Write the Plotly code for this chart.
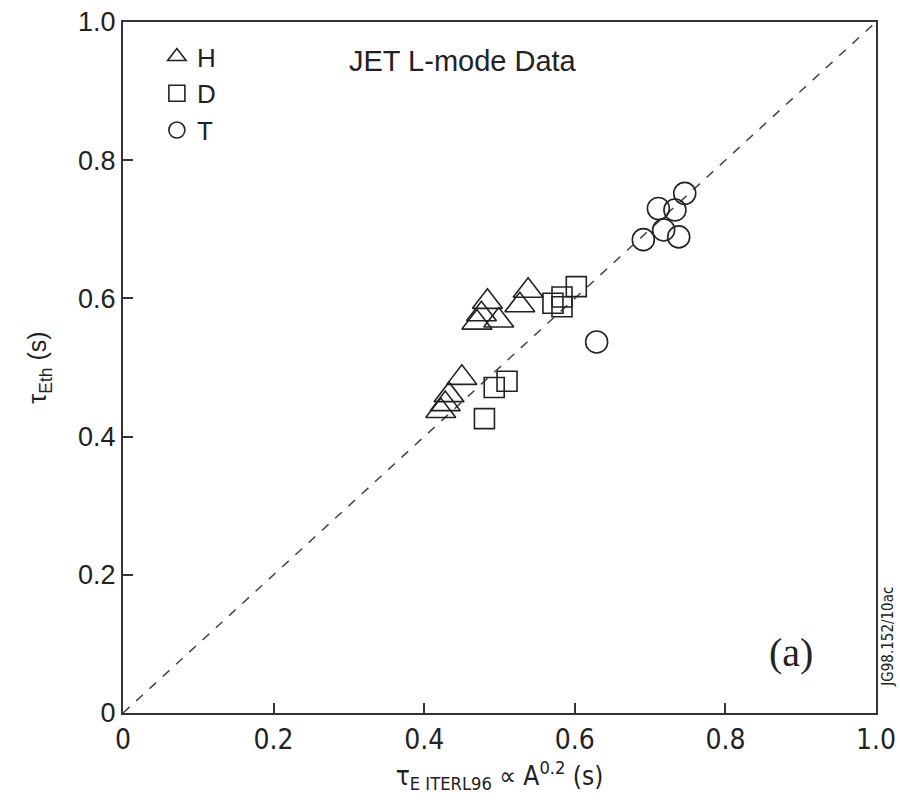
import plotly.graph_objects as go

# Data
h_x = [0.422, 0.428, 0.433, 0.450, 0.470, 0.476, 0.484, 0.499, 0.527, 0.538]
h_y = [0.437, 0.447, 0.460, 0.485, 0.565, 0.577, 0.595, 0.568, 0.590, 0.611]

d_x = [0.480, 0.493, 0.510, 0.571, 0.583, 0.583, 0.602]
d_y = [0.426, 0.471, 0.480, 0.593, 0.602, 0.588, 0.617]

t_x = [0.629, 0.691, 0.711, 0.718, 0.733, 0.738, 0.746]
t_y = [0.537, 0.685, 0.730, 0.699, 0.728, 0.689, 0.752]

ref_line = [0.0, 1.0]
tick_vals = [0, 0.2, 0.4, 0.6, 0.8, 1.0]
tick_text = ["0", "0.2", "0.4", "0.6", "0.8", "1.0"]

line_col = "#222222"
narrow = "Liberation Sans Narrow, DejaVu Sans Condensed, Liberation Sans, Arial"
regular = "Liberation Sans, Arial"

fig = go.Figure()

fig.add_trace(go.Scatter(x=ref_line, y=ref_line, mode="lines",
                         line=dict(color="#444444", width=1.5, dash="dash"),
                         showlegend=False, hoverinfo="skip"))

fig.add_trace(go.Scatter(x=h_x, y=h_y, mode="markers", name="H",
                         marker=dict(symbol="triangle-up-open", size=26, color=line_col,
                                     line=dict(color=line_col, width=1.6))))
fig.add_trace(go.Scatter(x=d_x, y=d_y, mode="markers", name="D",
                         marker=dict(symbol="square-open", size=20, color=line_col,
                                     line=dict(color=line_col, width=1.6))))
fig.add_trace(go.Scatter(x=t_x, y=t_y, mode="markers", name="T",
                         marker=dict(symbol="circle-open", size=22, color=line_col,
                                     line=dict(color=line_col, width=1.6))))

axis_common = dict(range=[0, 1], tickvals=tick_vals, ticktext=tick_text,
                   showline=True, linecolor="#333333", linewidth=2, mirror=True,
                   ticks="inside", ticklen=10, tickwidth=1.5, tickcolor="#333333",
                   showgrid=False, zeroline=False, automargin=False)

fig.update_layout(
    width=900, height=802,
    margin=dict(l=123, r=24, t=22, b=89),
    paper_bgcolor="white", plot_bgcolor="white",
    xaxis=dict(**axis_common,
               tickfont=dict(family=narrow, size=28, color="#222222"),
               title=dict(text="τ<sub>E ITERL96</sub> ∝ A<sup>0.2</sup> (s)",
                          font=dict(family=narrow, size=26, color="#222222"),
                          standoff=12)),
    yaxis=dict(**axis_common,
               tickfont=dict(family=regular, size=27, color="#222222"),
               title=dict(text="τ<sub>Eth</sub> (s)",
                          font=dict(family=regular, size=25, color="#222222"),
                          standoff=24)),
    legend=dict(x=0.045, y=0.984, xanchor="left", yanchor="top",
                font=dict(family=regular, size=26, color="#222222"),
                bgcolor="rgba(0,0,0,0)", tracegroupgap=0, itemwidth=30),
    showlegend=True,
    annotations=[
        dict(text="JET L-mode Data", x=0.4515, y=0.9436, xref="paper", yref="paper",
             xanchor="center", yanchor="middle",
             showarrow=False, font=dict(family=regular, size=29, color="#222222")),
        dict(text="(a)", x=0.887, y=0.088, xref="paper", yref="paper",
             xanchor="center", yanchor="middle",
             showarrow=False, font=dict(family="Liberation Serif, Times New Roman", size=40, color="#222222")),
        dict(text="JG98.152/10ac", x=1.0155, y=0.11, xref="paper", yref="paper",
             xanchor="center", yanchor="middle",
             showarrow=False, textangle=-90,
             font=dict(family=narrow, size=15, color="#222222")),
    ],
)

fig.write_html("out.html")
